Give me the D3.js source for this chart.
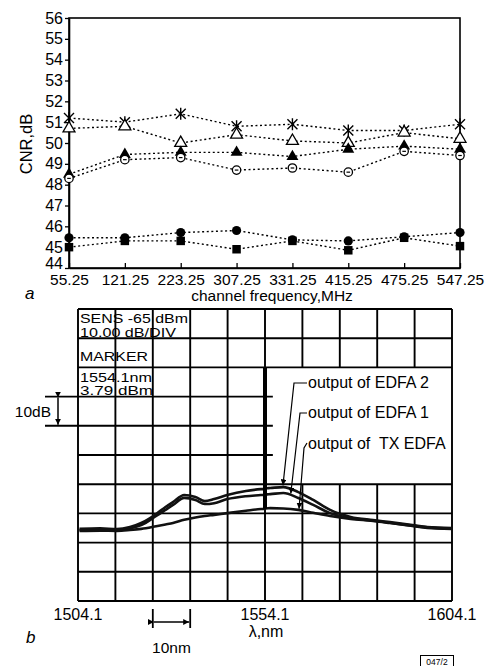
<!DOCTYPE html>
<html>
<head>
<meta charset="utf-8">
<script src="https://cdn.jsdelivr.net/npm/d3@7"></script>
<style>
body { margin: 0; background: #fff; }
svg { font-family: "Liberation Sans", Arial, Helvetica, sans-serif; }
</style>
</head>
<body>
<div id="chart"></div>
<script>
//
// Data
// (a) CNR vs channel frequency, six measured series
//
var channels    = ["55.25", "121.25", "223.25", "307.25", "331.25", "415.25", "475.25", "547.25"];
var cnrStar     = [51.2, 51.0, 51.4, 50.8, 50.9, 50.6, 50.6, 50.9];
var cnrOpenTri  = [50.7, 50.8, 50.0, 50.4, 50.1, 50.0, 50.5, 50.2];
var cnrFillTri  = [48.5, 49.45, 49.55, 49.55, 49.35, 49.7, 49.85, 49.7];
var cnrOpenCirc = [48.3, 49.2, 49.3, 48.7, 48.8, 48.6, 49.6, 49.4];
var cnrFillCirc = [45.45, 45.45, 45.7, 45.8, 45.35, 45.3, 45.5, 45.7];
var cnrFillSq   = [45.0, 45.3, 45.3, 44.9, 45.3, 44.85, 45.45, 45.05];
var cnrTicks    = [44, 45, 46, 47, 48, 49, 50, 51, 52, 53, 54, 55, 56];

//
// (b) optical spectra (wavelength nm, level dBm)
//
var wl       = [1504.5, 1510, 1514.5, 1518, 1521, 1525, 1527.5, 1529.5, 1532.5, 1535.5, 1538, 1540.5, 1544, 1549, 1553,
                1553.9, 1554.1, 1554.3, 1555.5, 1559, 1563, 1567, 1571.5, 1577, 1583, 1587.5, 1593.5, 1597.5, 1604];
var dbmEdfa2 = [-51.5, -51.3, -51.6, -50.9, -49.5, -46.4, -44.0, -42.3, -39.9, -40.6, -42.0, -41.3, -39.9, -38.5, -37.9,
                -37.8, 3.79, -37.6, -37.5, -37.2, -38.9, -41.6, -45.0, -47.4, -48.5, -49.2, -50.2, -50.9, -51.2];
var dbmEdfa1 = [-51.9, -51.8, -52.0, -51.3, -50.2, -47.1, -45.0, -43.3, -40.9, -41.6, -43.0, -42.7, -41.3, -40.3, -39.9,
                -39.8, 3.79, -39.7, -39.6, -39.2, -40.9, -43.3, -46.1, -47.8, -48.7, -49.4, -50.4, -51.0, -51.4];
var dbmTx    = [-52.2, -52.1, -52.2, -51.9, -51.5, -50.6, -50.0, -49.5, -48.4, -47.6, -47.1, -46.7, -46.1, -45.3, -44.7,
                -44.6, 3.79, -44.5, -44.4, -44.5, -45.0, -46.0, -47.1, -48.1, -48.8, -49.5, -50.5, -51.2, -51.5];
var wlLabels   = [1504.1, 1554.1, 1604.1];
var osaLines   = ["SENS -65 dBm", "10.00 dB/DIV", "MARKER", "1554.1nm", "3.79 dBm"];
var curveNames = ["output of EDFA 2", "output of EDFA 1", "output of  TX EDFA"];
var arrowWl    = [1558.9, 1561.0, 1563.2];
var arrowDbm   = [-36.6, -39.4, -44.6];

var W = 488, H = 666;

var svg = d3.select("#chart").append("svg")
	.attr("width", W)
	.attr("height", H);

svg.append("rect").attr("width", W).attr("height", H).attr("fill", "#fff");

//
// ---------- panel a ----------
//
var x = d3.scalePoint().domain(channels).range([69, 460]);
var y = d3.scaleLinear().domain([44, 56]).range([268, 18]);

var pa = svg.append("g");

pa.append("rect")
	.attr("x", 69).attr("y", 18)
	.attr("width", 460 - 69).attr("height", 268 - 18)
	.attr("fill", "none")
	.attr("stroke", "#000")
	.attr("stroke-width", 1.6);

var axisX = pa.append("g")
	.attr("transform", "translate(0,268)")
	.call(d3.axisBottom(x).tickSizeInner(-5).tickSizeOuter(0).tickPadding(6));
axisX.select(".domain").attr("stroke-width", 1.6);
axisX.selectAll("line").attr("stroke-width", 1.3);
axisX.selectAll("text").style("font-size", "15.5px").attr("fill", "#000");

var axisY = pa.append("g")
	.attr("transform", "translate(69,0)")
	.call(d3.axisLeft(y).tickValues(cnrTicks).tickSizeInner(4).tickSizeOuter(0).tickPadding(2));
axisY.select(".domain").attr("stroke-width", 1.6);
axisY.selectAll("line").attr("stroke-width", 1.3);
axisY.selectAll("text").style("font-size", "16px").attr("fill", "#000");
// lowest label sits a little high, clear of the first channel label
axisY.selectAll("text").filter(function(d) { return d == 44; }).attr("dy", "0.05em");

pa.append("text")
	.attr("transform", "translate(26,144) rotate(-90)")
	.attr("text-anchor", "middle")
	.attr("dy", "0.35em")
	.style("font-size", "16.5px")
	.text("CNR,dB");

pa.append("text")
	.attr("x", 272).attr("y", 301)
	.attr("text-anchor", "middle")
	.style("font-size", "15.5px")
	.text("channel frequency,MHz");

pa.append("text")
	.attr("x", 25).attr("y", 299)
	.style("font-size", "17px")
	.style("font-style", "italic")
	.text("a");

//
// series with their marker types
//
var series = [
	{ values: cnrStar,     mark: "star" },
	{ values: cnrOpenTri,  mark: "openTri" },
	{ values: cnrFillTri,  mark: "fillTri" },
	{ values: cnrOpenCirc, mark: "openCirc" },
	{ values: cnrFillCirc, mark: "fillCirc" },
	{ values: cnrFillSq,   mark: "fillSq" }
];

var valueline = d3.line()
	.x(function(d, i) { return x(channels[i]); })
	.y(function(d) { return y(d); });

series.forEach(function(s) {
	pa.append("path")
		.attr("d", valueline(s.values))
		.attr("fill", "none")
		.attr("stroke", "#000")
		.attr("stroke-width", 1.4)
		.attr("stroke-dasharray", "2,2.6");
});

var triPath = d3.symbol().type(d3.symbolTriangle).size(62)();
var sqPath = d3.symbol().type(d3.symbolSquare).size(72)();
var starPath = "M-5,-5L5,5M-5,5L5,-5M0,-6L0,6";

series.forEach(function(s) {
	var g = pa.selectAll(null)
		.data(s.values)
		.enter().append("g")
		.attr("transform", function(d, i) { return "translate(" + x(channels[i]) + "," + y(d) + ")"; });
	if (s.mark == "star") {
		g.append("path").attr("d", starPath).attr("stroke", "#000").attr("stroke-width", 1.4).attr("fill", "none");
	} else if (s.mark == "openTri") {
		g.append("path").attr("d", triPath).attr("fill", "#fff").attr("stroke", "#000").attr("stroke-width", 1.3);
	} else if (s.mark == "fillTri") {
		g.append("path").attr("d", triPath).attr("fill", "#000");
	} else if (s.mark == "openCirc") {
		g.append("circle").attr("r", 4.2).attr("fill", "#fff").attr("stroke", "#000").attr("stroke-width", 1.3);
		g.append("path").attr("d", "M-1.8,0L1.8,0").attr("stroke", "#000").attr("stroke-width", 1.2);
	} else if (s.mark == "fillCirc") {
		g.append("circle").attr("r", 4.6).attr("fill", "#000");
	} else {
		g.append("path").attr("d", sqPath).attr("fill", "#000");
	}
});

//
// ---------- panel b ----------
//
var refLevel = 23.8;
var xS = d3.scaleLinear().domain([1504.1, 1604.1]).range([78, 452]);
var yS = d3.scaleLinear().domain([refLevel - 100, refLevel]).range([601, 309]);

var gridWl = d3.range(11).map(function(k) { return 1504.1 + 10 * k; });
var gridDb = d3.range(11).map(function(k) { return refLevel - 10 * k; });

var pb = svg.append("g");
var gridStroke = 1.9;

// vertical grid lines (blank window right of centre for the labels)
gridWl.forEach(function(w, k) {
	if (k >= 6 && k <= 9) {
		pb.append("line").attr("x1", xS(w)).attr("x2", xS(w)).attr("y1", yS(refLevel)).attr("y2", yS(refLevel - 20));
		pb.append("line").attr("x1", xS(w)).attr("x2", xS(w)).attr("y1", yS(refLevel - 60)).attr("y2", yS(refLevel - 100));
	} else {
		pb.append("line").attr("x1", xS(w)).attr("x2", xS(w)).attr("y1", yS(refLevel)).attr("y2", yS(refLevel - 100));
	}
});

// horizontal grid lines
gridDb.forEach(function(v, k) {
	var xEnd = (k >= 3 && k <= 5) ? xS(1556.2) : xS(1604.1);
	pb.append("line").attr("x1", xS(1504.1)).attr("x2", xEnd).attr("y1", yS(v)).attr("y2", yS(v));
});
pb.selectAll("line").attr("stroke", "#000").attr("stroke-width", gridStroke);

// info text in the upper left cells
var osaY = [322.5, 336.5, 361, 381.5, 395];
var osaW = [108, 96, 68, 72, 73];
pb.selectAll(".osa")
	.data(osaLines)
	.enter().append("text")
	.attr("class", "osa")
	.attr("x", 80)
	.attr("y", function(d, i) { return osaY[i]; })
	.attr("textLength", function(d, i) { return osaW[i]; })
	.attr("lengthAdjust", "spacingAndGlyphs")
	.style("font-size", "13.5px")
	.text(function(d) { return d; });

// spectra
var specLine = d3.line()
	.x(function(d, i) { return xS(wl[i]); })
	.y(function(d) { return yS(d); })
	.curve(d3.curveMonotoneX);

[dbmTx, dbmEdfa1, dbmEdfa2].forEach(function(s) {
	pb.append("path")
		.attr("d", specLine(s))
		.attr("fill", "none")
		.attr("stroke", "#111")
		.attr("stroke-width", 2.6)
		.attr("stroke-linejoin", "round");
});

// carrier line drawn heavier, as on the plotter trace
var pk = d3.maxIndex(dbmEdfa2);
pb.append("line")
	.attr("x1", xS(wl[pk])).attr("x2", xS(wl[pk]))
	.attr("y1", yS(dbmEdfa2[pk])).attr("y2", yS(dbmTx[pk - 1]))
	.attr("stroke", "#000").attr("stroke-width", 4);

// curve labels with leader arrows
svg.append("defs").append("marker")
	.attr("id", "ah")
	.attr("viewBox", "0 0 10 10")
	.attr("refX", 10).attr("refY", 5)
	.attr("markerWidth", 6).attr("markerHeight", 6)
	.attr("markerUnits", "userSpaceOnUse")
	.attr("orient", "auto")
	.append("path").attr("d", "M0,0L10,5L0,10z").attr("fill", "#000");

var labelY = [388, 418, 449];
var bendX = [294, 300, 304];
pb.selectAll(".lab")
	.data(curveNames)
	.enter().append("text")
	.attr("class", "lab")
	.attr("x", 308)
	.attr("y", function(d, i) { return labelY[i]; })
	.style("font-size", "16px")
	.style("white-space", "pre")
	.text(function(d) { return d; });

curveNames.forEach(function(d, i) {
	var y0 = labelY[i] - 5;
	var pts = (i < 2)
		? [[307, y0], [bendX[i], y0], [xS(arrowWl[i]), yS(arrowDbm[i])]]
		: [[307, y0 - 1], [bendX[i], y0 + 4], [xS(arrowWl[i]), yS(arrowDbm[i])]];
	pb.append("path")
		.attr("d", d3.line()(pts))
		.attr("fill", "none")
		.attr("stroke", "#000")
		.attr("stroke-width", 1.2)
		.attr("marker-end", "url(#ah)");
});

// 10dB scale bar
[refLevel - 30, refLevel - 40].forEach(function(v) {
	pb.append("line")
		.attr("x1", 45).attr("x2", xS(1504.1))
		.attr("y1", yS(v)).attr("y2", yS(v))
		.attr("stroke", "#000").attr("stroke-width", gridStroke);
});
pb.append("line")
	.attr("x1", 58).attr("x2", 58)
	.attr("y1", yS(refLevel - 30) + 1).attr("y2", yS(refLevel - 40) - 1)
	.attr("stroke", "#000").attr("stroke-width", 1.5)
	.attr("marker-start", "url(#ah)")
	.attr("marker-end", "url(#ah)");
pb.append("text")
	.attr("x", 51).attr("y", (yS(refLevel - 30) + yS(refLevel - 40)) / 2)
	.attr("dy", "0.35em")
	.attr("text-anchor", "end")
	.style("font-size", "15.5px")
	.text("10dB");

// wavelength labels
pb.selectAll(".wl")
	.data(wlLabels)
	.enter().append("text")
	.attr("class", "wl")
	.attr("x", function(d) { return xS(d); })
	.attr("y", 620)
	.attr("text-anchor", "middle")
	.style("font-size", "16px")
	.text(function(d) { return d.toFixed(1); });

pb.append("text")
	.attr("x", 266).attr("y", 637)
	.attr("text-anchor", "middle")
	.style("font-size", "16px")
	.text("\u03bb,nm");

// 10nm scale bar
[1524.1, 1534.1].forEach(function(w) {
	pb.append("line")
		.attr("x1", xS(w)).attr("x2", xS(w))
		.attr("y1", 609).attr("y2", 628)
		.attr("stroke", "#000").attr("stroke-width", 1.8);
});
pb.append("line")
	.attr("x1", xS(1524.1) + 1).attr("x2", xS(1534.1) - 1)
	.attr("y1", 622).attr("y2", 622)
	.attr("stroke", "#000").attr("stroke-width", 1.5)
	.attr("marker-start", "url(#ah)")
	.attr("marker-end", "url(#ah)");
pb.append("text")
	.attr("x", (xS(1524.1) + xS(1534.1)) / 2).attr("y", 653)
	.attr("text-anchor", "middle")
	.style("font-size", "15.5px")
	.text("10nm");

pb.append("text")
	.attr("x", 26).attr("y", 643)
	.style("font-size", "17px")
	.style("font-style", "italic")
	.text("b");

// figure code box
svg.append("rect")
	.attr("x", 420.5).attr("y", 655.5).attr("width", 33).attr("height", 12)
	.attr("fill", "none").attr("stroke", "#000").attr("stroke-width", 1);
svg.append("text")
	.attr("x", 437).attr("y", 664.5)
	.attr("text-anchor", "middle")
	.style("font-size", "8.5px")
	.text("047/2");
</script>
</body>
</html>
